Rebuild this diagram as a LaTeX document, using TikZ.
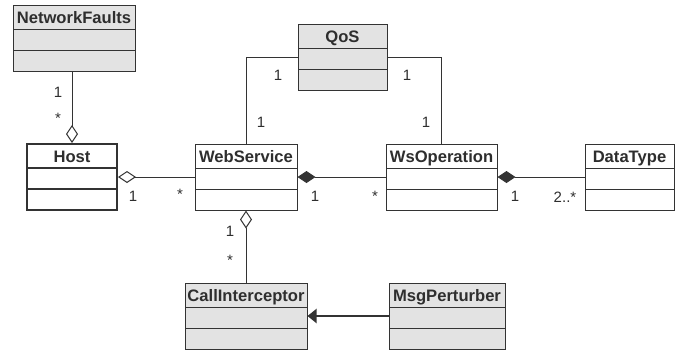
\documentclass[tikz,border=0pt]{standalone}
\usepackage{fontspec}
\setmainfont{Liberation Sans}
\usetikzlibrary{arrows.meta}
\definecolor{linegray}{HTML}{333333}
\definecolor{boxgray}{HTML}{E3E3E3}
\definecolor{textgray}{HTML}{2E2E2E}
\begin{document}
\begin{tikzpicture}[x=1pt, y=-1pt,
		umlclass/.style={draw=linegray, line width=1pt, fill=white, inner sep=0pt, text=textgray,
			font=\bfseries\fontsize{16.6}{18}\selectfont, text height=18pt, text depth=48pt,
			path picture={\draw[linegray]
				([yshift=-24pt]path picture bounding box.north west) -- ([yshift=-24pt]path picture bounding box.north east)
				([yshift=-45pt]path picture bounding box.north west) -- ([yshift=-45pt]path picture bounding box.north east);}},
		grayfill/.style={fill=boxgray},
		mult/.style={text=textgray, font=\fontsize{15}{17}\selectfont, inner sep=0pt},
		assoc/.style={draw=linegray, line width=1pt},
		aggr/.style={assoc, {Diamond[open, length=18pt, width=12pt]}-},
		comp/.style={assoc, {Diamond[length=18pt, width=12pt]}-}]
	\useasboundingbox (0,0) rectangle (681,354);
	% classes
	\node[umlclass, grayfill, minimum width=122pt] (NetworkFaults) at (74,38) {NetworkFaults};
	\node[umlclass, line width=2pt, minimum width=90pt] (Host) at (72,177) {Host};
	\node[umlclass, minimum width=102pt] (WebService) at (246,177) {WebService};
	\node[umlclass, grayfill, minimum width=89pt] (QoS) at (342.5,57) {QoS};
	\node[umlclass, minimum width=111pt] (WsOperation) at (441.5,177) {WsOperation};
	\node[umlclass, minimum width=89pt] (DataType) at (629.5,177) {DataType};
	\node[umlclass, grayfill, minimum width=122pt] (CallInterceptor) at (246,316) {CallInterceptor};
	\node[umlclass, grayfill, minimum width=116pt] (MsgPerturber) at (447,316) {MsgPerturber};
	% relations
	\draw[aggr] (Host.north) -- (Host.north |- NetworkFaults.south);
	\draw[aggr] (Host.east) -- (WebService.west);
	\draw[assoc] (QoS.west) -| (WebService.north);
	\draw[assoc] (QoS.east) -| (WsOperation.north);
	\draw[comp] (WebService.east) -- (WsOperation.west);
	\draw[comp] (WsOperation.east) -- (DataType.west);
	\draw[aggr] (WebService.south) -- (CallInterceptor.north);
	\draw[draw=linegray, line width=2pt, -{Triangle[length=9pt, width=14pt]}] (MsgPerturber.west) -- (CallInterceptor.east);
	% multiplicities
	\node[mult] (nfOne) at (58,92) {1};
	\node[mult] (nfMany) at (58,118) {*};
	\node[mult] (hostOne) at (133,196) {1};
	\node[mult] (hostMany) at (180,194) {*};
	\node[mult] (qosOneL) at (278,75) {1};
	\node[mult] (wsOneQ) at (261,122) {1};
	\node[mult] (qosOneR) at (407,75) {1};
	\node[mult] (opOneQ) at (426,122) {1};
	\node[mult] (wsOne) at (315,196) {1};
	\node[mult] (opMany) at (375,196) {*};
	\node[mult] (opOne) at (515,196) {1};
	\node[mult] (dtMany) at (565,197) {2..*};
	\node[mult] (ciOne) at (230,231) {1};
	\node[mult] (ciMany) at (230,260) {*};
\end{tikzpicture}
\end{document}
